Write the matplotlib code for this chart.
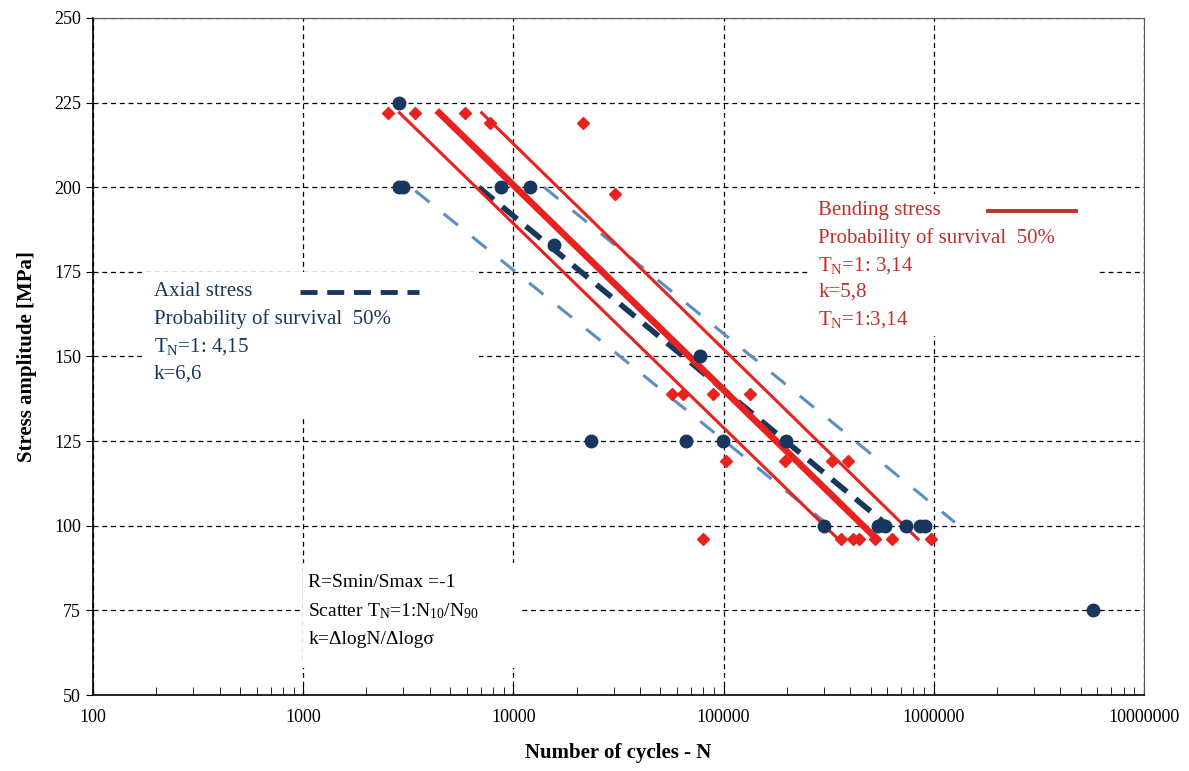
import matplotlib.pyplot as plt
import numpy as np

plt.rcParams['font.family'] = 'Liberation Serif'
plt.rcParams['mathtext.fontset'] = 'custom'
plt.rcParams['mathtext.rm'] = 'Liberation Serif'
plt.rcParams['mathtext.it'] = 'Liberation Serif:italic'

navy = '#17375e'
lightblue = '#5b8ec4'
red = '#e8221e'
redtxt = '#c0302b'

# axial stress test points (N, stress amplitude MPa)
axial_N = [2870, 2870, 2990, 8770, 12000, 15600, 77000,
           23300, 66200, 98900, 198000,
           299000, 545000, 587000, 738000, 859000, 908000, 5740000]
axial_S = [225, 200, 200, 200, 200, 183, 150,
           125, 125, 125, 125,
           100, 100, 100, 100, 100, 100, 75]

# bending stress test points
bend_N = [2520, 3410, 5870, 7710, 21400, 30300,
          56900, 64100, 88700, 134000,
          103000, 196000, 327000, 389000,
          79600, 361000, 411000, 443000, 527000, 634000, 968000]
bend_S = [222, 222, 222, 219, 219, 198,
          139, 139, 139, 139,
          119, 119, 119, 119,
          96, 96, 96, 96, 96, 96, 96]

# fitted lines (two end points each)
axial_mid_N = [6840, 590000]
axial_mid_S = [200, 100.6]
axial_hi_N = [14000, 1260000]
axial_hi_S = [200, 101]
axial_lo_N = [3410, 304000]
axial_lo_S = [199, 101]

bend_mid_N = [4430, 527000]
bend_mid_S = [222, 96.5]
bend_lo_N = [2870, 345000]
bend_lo_S = [222, 96.5]
bend_hi_N = [7060, 842000]
bend_hi_S = [222, 96]

fig = plt.figure(figsize=(11.89, 7.71), dpi=100)
ax = fig.add_axes([93/1189, 76/771, 1051/1189, 677/771])

ax.set_xscale('log')
ax.set_xlim(100, 1e7)
ax.set_ylim(50, 250)
ax.set_yticks(np.arange(50, 251, 25))
ax.set_xticks([1e2, 1e3, 1e4, 1e5, 1e6, 1e7])
ax.set_xticklabels(['100', '1000', '10000', '100000', '1000000', '10000000'])
ax.grid(True, which='major', color='black', linestyle=(0, (4, 3)), linewidth=0.9)
ax.tick_params(axis='x', which='major', direction='in', length=7, labelsize=13, pad=10)
ax.tick_params(axis='x', which='minor', direction='in', length=6)
ax.tick_params(axis='y', direction='out', length=5, labelsize=13)
for s in ['top', 'right']:
    ax.spines[s].set_color('#555555')
ax.spines['left'].set_linewidth(1.2)
ax.spines['bottom'].set_linewidth(1.2)

ax.set_xlabel('Number of cycles - N', fontsize=15, fontweight='bold', labelpad=12)
ax.set_ylabel('Stress amplitude [MPa]', fontsize=15, fontweight='bold', labelpad=12)

# lines
ax.plot(axial_hi_N, axial_hi_S, color=lightblue, lw=2.2, dashes=(6, 6), zorder=3)
ax.plot(axial_lo_N, axial_lo_S, color=lightblue, lw=2.2, dashes=(6, 6), zorder=3)
ax.plot(axial_mid_N, axial_mid_S, color=navy, lw=4, dashes=(3.5, 2), zorder=4)
ax.plot(bend_lo_N, bend_lo_S, color=red, lw=2.2, zorder=4)
ax.plot(bend_hi_N, bend_hi_S, color=red, lw=2.2, zorder=4)
ax.plot(bend_mid_N, bend_mid_S, color=red, lw=4.8, zorder=4)

ax.plot(axial_N, axial_S, 'o', color=navy, ms=9, zorder=5)
ax.plot(bend_N, bend_S, 'D', color=red, ms=6, zorder=5)

# text blocks
fs = 15
t_blue = ['Axial stress', 'Probability of survival  50%',
          r'T$_{\mathregular{N}}$=1: 4,15', 'k=6,6']
for i, t in enumerate(t_blue):
    ax.text(0.058, 0.596 - i * 0.0405, t, transform=ax.transAxes, color=navy,
            fontsize=fs, va='center', zorder=6)
ax.plot([0.197, 0.31], [0.596, 0.596], transform=ax.transAxes, color=navy, lw=3.5,
        dashes=(3.5, 2), zorder=6)

t_red = ['Bending stress', 'Probability of survival  50%',
         r'T$_{\mathregular{N}}$=1: 3,14', 'k=5,8', r'T$_{\mathregular{N}}$=1:3,14']
for i, t in enumerate(t_red):
    ax.text(0.69, 0.715 - i * 0.04, t, transform=ax.transAxes, color=redtxt,
            fontsize=fs, va='center', zorder=6)
ax.plot([0.852, 0.935], [0.715, 0.715], transform=ax.transAxes, color=redtxt, lw=2.8, zorder=6)

t_black = ['R=Smin/Smax =-1',
           r'Scatter T$_{\mathregular{N}}$=1:N$_{\mathregular{10}}$/N$_{\mathregular{90}}$',
           'k=ΔlogN/Δlogσ']
for i, t in enumerate(t_black):
    ax.text(0.205, 0.166 - i * 0.042, t, transform=ax.transAxes, color='black',
            fontsize=14, va='center', zorder=6)

# white backgrounds under the text blocks (in axes fraction)
ax.add_patch(plt.Rectangle((0.047, 0.41), 0.32, 0.215, transform=ax.transAxes,
                           facecolor='white', edgecolor='none', zorder=1.5))
ax.add_patch(plt.Rectangle((0.68, 0.53), 0.275, 0.21, transform=ax.transAxes,
                           facecolor='white', edgecolor='none', zorder=1.5))
ax.add_patch(plt.Rectangle((0.2, 0.04), 0.205, 0.155, transform=ax.transAxes,
                           facecolor='white', edgecolor='none', zorder=1.5))
ax.set_axisbelow(True)

fig.savefig('out.png', dpi=100)
